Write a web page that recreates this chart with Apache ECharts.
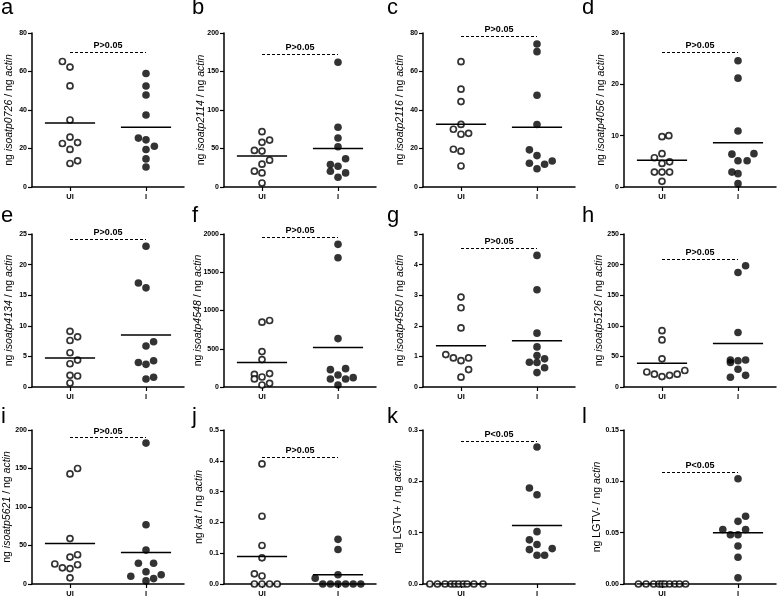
<!DOCTYPE html>
<html><head><meta charset="utf-8">
<script src="https://cdn.jsdelivr.net/npm/echarts@6/dist/echarts.min.js"></script>
<style>html,body{margin:0;padding:0;background:#fff}#c{width:777px;height:600px}</style>
</head><body><div id="c"></div>
<script>
// ---------- DATA ----------
const panelLetters = ['a','b','c','d','e','f','g','h','i','j','k','l'];
const categories = ['UI', 'I'];
const genes = ['isoatp0726','isoatp2114','isoatp2116','isoatp4056','isoatp4134','isoatp4548','isoatp4550','isoatp5126','isoatp5621','kat','LGTV+','LGTV-'];
const geneItalic = [true,true,true,true,true,true,true,true,true,true,false,false];
const yMax = [80, 200, 80, 30, 25, 2000, 5, 250, 200, 0.5, 0.3, 0.15];
const yInterval = [20, 50, 20, 10, 5, 500, 1, 50, 50, 0.1, 0.1, 0.05];
const yDecimals = [0,0,0,0,0,0,0,0,0,1,1,2];
const pLabels = ['P>0.05','P>0.05','P>0.05','P>0.05','P>0.05','P>0.05','P>0.05','P>0.05','P>0.05','P>0.05','P<0.05','P<0.05'];
const pLevels = [70, 173, 78.3, 26.3, 24.2, 1956, 4.54, 209, 190, 0.413, 0.279, 0.109];
const meanUI = [33.2, 40.1, 32.6, 5.2, 4.75, 319, 1.35, 39, 52.7, 0.089, 0, 0];
const meanI  = [31.1, 50.1, 31.1, 8.6, 8.5, 515, 1.51, 71, 41, 0.03, 0.114, 0.050];

// points: [jitter in group widths, value]
const a_UI = [[-0.1,65.2],[0,62.3],[0,52.5],[0,34.8],[0,25.9],[-0.1,22.6],[0.1,23.1],[0,19.5],[0,12.2],[0.1,13.6]];
const a_I  = [[0,59.0],[0,52.5],[0,47.8],[0,37.4],[-0.1,25.4],[0,24.5],[0.11,21.2],[0,19.5],[0,14.6],[0,10.4]];
const b_UI = [[0,71.9],[0,58],[0.1,61],[-0.1,47.5],[0,46.6],[0,29.6],[0.1,34.9],[-0.1,20.5],[0,18.3],[0,5.2]];
const b_I  = [[0,162],[0,77.6],[0,63.6],[0,52.3],[0.1,36.6],[-0.1,29.2],[0,27],[-0.1,20.5],[0.1,18.3],[0,12.6]];
const c_UI = [[0,65.1],[0,50.8],[0,44.4],[0,32.5],[-0.1,30.0],[0,27.4],[0.1,27.9],[-0.1,19.6],[0,18.6],[0,10.9]];
const c_I  = [[0,74.3],[0,70.3],[0,47.7],[0,32.5],[-0.1,19.3],[0,16.3],[-0.1,12.3],[0,9.5],[0.1,11.8],[0.2,13.5]];
const d_UI = [[0,9.8],[0.09,10.0],[0,6.5],[-0.1,5.7],[0,4.6],[0.1,4.9],[-0.1,2.9],[0,2.9],[0.1,2.9],[0,1.1]];
const d_I  = [[0,24.6],[0,21.2],[0,10.9],[-0.08,6.4],[0.21,6.5],[0,5.1],[0.12,5.1],[-0.08,2.9],[0,2.6],[0,0.65]];
const e_UI = [[0,9.1],[0.1,8.2],[0,7.6],[0,5.6],[0.1,4.4],[0,3.8],[0,1.9],[0.1,1.8],[0,0.65]];
const e_I  = [[0,23.0],[-0.1,17.0],[0,16.2],[0.1,7.4],[0,6.7],[-0.1,4.0],[0.1,4.3],[0,3.7],[0,1.3],[0.1,1.6]];
const f_UI = [[0,847],[0.1,869],[0,463],[0,358],[-0.1,166],[-0.1,105],[0,131],[0.1,175],[0,26],[0.1,48]];
const f_I  = [[0,1865],[0,1690],[0,633],[-0.1,227],[0.1,240],[0,157],[-0.1,105],[0.1,105],[0.2,122],[0,26]];
const g_UI = [[0,2.94],[0,2.59],[0,1.93],[-0.2,1.06],[-0.1,0.95],[0,0.86],[0.1,0.95],[0.1,0.57],[0,0.32]];
const g_I  = [[0,4.30],[0,3.18],[0,1.76],[0,1.31],[0,1.03],[-0.1,0.81],[0,0.80],[0.1,0.92],[0.1,0.63],[0,0.47]];
const h_UI = [[0,92],[0,77],[0,46],[-0.2,24.5],[-0.1,21],[0,17],[0.1,19],[0.2,21],[0.3,27]];
const h_I  = [[0.1,198],[0,187],[0,89],[-0.1,44],[-0.1,40],[0,43],[0.1,44],[0,29],[-0.1,16],[0.1,19]];
const i_UI = [[0.1,150],[0,143],[0,59],[0.1,38],[0,35],[-0.2,26],[-0.1,21],[0,20],[0.1,25],[0,8]];
const i_I  = [[0,183],[0,77],[0,44],[-0.1,27],[0.1,27],[0,16],[-0.2,10],[0.1,7],[0.2,12],[0,4]];
const j_UI = [[0,0.39],[0,0.22],[0,0.125],[0,0.085],[-0.1,0.033],[0,0.026],[-0.1,0],[0,0],[0.1,0],[0.2,0]];
const j_I  = [[0,0.145],[0,0.112],[0,0.03],[-0.3,0.019],[-0.2,0],[-0.1,0],[0,0],[0.1,0],[0.2,0],[0.3,0]];
const k_UI = [[-0.41,0],[-0.31,0],[-0.21,0],[-0.13,0],[-0.08,0],[-0.03,0],[0.03,0],[0.08,0],[0.17,0],[0.29,0]];
const k_I  = [[0,0.267],[-0.1,0.187],[0,0.174],[0,0.102],[-0.1,0.086],[0,0.077],[-0.1,0.067],[0.2,0.069],[0,0.056],[0.1,0.056]];
const l_UI = [[-0.31,0],[-0.21,0],[-0.11,0],[-0.04,0],[0,0],[0.04,0],[0.1,0],[0.17,0],[0.23,0],[0.31,0]];
const l_I  = [[0,0.1025],[0.1,0.066],[0,0.061],[-0.2,0.053],[-0.1,0.048],[0,0.048],[0.1,0.053],[0,0.037],[0,0.026],[0,0.006]];

const pointsUI = [a_UI,b_UI,c_UI,d_UI,e_UI,f_UI,g_UI,h_UI,i_UI,j_UI,k_UI,l_UI];
const pointsI  = [a_I,b_I,c_I,d_I,e_I,f_I,g_I,h_I,i_I,j_I,k_I,l_I];

// ---------- LAYOUT ----------
const colLeft = [32, 224, 423, 624];
const rowTop = [33, 234, 430];
const rowH = [154, 153, 154];
const gridW = 152;
const letterY = [18, 226, 427];
const letterX = [1, 192, 387, 582];
const nameGaps = [17, 17, 17, 17, 17, 20, 17, 19, 19, 19, 19, 21];
const FONT = 'Liberation Sans, Arial, sans-serif';

const chart = echarts.init(document.getElementById('c'), null, {renderer: 'canvas'});
const grids = [], xAxes = [], yAxes = [], series = [], graphics = [];

for (let k = 0; k < 12; k++) {
  const r = Math.floor(k / 4), c = k % 4;
  grids.push({left: colLeft[c], top: rowTop[r], width: gridW, height: rowH[r], containLabel: false, outerBoundsMode: 'none'});
  xAxes.push({
    gridIndex: k, type: 'value', min: 0.5, max: 2.5,
    axisLine: {show: true, onZero: false, lineStyle: {color: '#000', width: 1.5}},
    axisTick: {show: true, customValues: [1, 2], length: 4, lineStyle: {color: '#000', width: 1.2}},
    axisLabel: {show: true, customValues: [1, 2], formatter: v => categories[Math.round(v) - 1] || '',
      fontSize: 7.5, fontWeight: 'bold', color: '#000', margin: 6, fontFamily: FONT},
    splitLine: {show: false}
  });
  const nameText = geneItalic[k]
    ? 'ng {i|' + genes[k] + '} / ng {i|actin}'
    : 'ng ' + genes[k] + ' / ng {i|actin}';
  yAxes.push({
    gridIndex: k, type: 'value', min: 0, max: yMax[k], interval: yInterval[k],
    axisLine: {show: true, onZero: false, lineStyle: {color: '#000', width: 1.5}},
    axisTick: {show: true, length: 4, lineStyle: {color: '#000', width: 1.2}},
    axisLabel: {fontSize: 7, fontWeight: 'bold', color: '#000', margin: 5, fontFamily: FONT,
      formatter: v => Number(v).toFixed(yDecimals[k])},
    splitLine: {show: false},
    name: nameText, nameLocation: 'middle', nameRotate: 90, nameGap: nameGaps[k], nameMoveOverlap: false,
    nameTextStyle: {fontSize: 10.5, color: '#000', fontFamily: FONT,
      rich: {i: {fontStyle: 'italic', fontSize: 10.5, color: '#000', fontFamily: FONT}}}
  });
  series.push({
    type: 'scatter', xAxisIndex: k, yAxisIndex: k, clip: false, z: 3,
    data: pointsUI[k].map(p => [1 + p[0], p[1]]),
    symbol: 'circle', symbolSize: 6,
    itemStyle: {color: '#fff', borderColor: '#000', borderWidth: 1.7},
    silent: true,
    markLine: {
      silent: true, symbol: ['none', 'none'], animation: false,
      lineStyle: {type: [3, 2], color: '#000', width: 1},
      label: {show: true, position: 'middle', formatter: pLabels[k], fontSize: 9, fontWeight: 'bold',
        color: '#000', distance: 2, fontFamily: FONT},
      data: [[{coord: [1, pLevels[k]]}, {coord: [2, pLevels[k]]}]]
    }
  });
  series.push({
    type: 'scatter', xAxisIndex: k, yAxisIndex: k, clip: false, z: 3,
    data: pointsI[k].map(p => [2 + p[0], p[1]]),
    symbol: 'circle', symbolSize: 7.6,
    itemStyle: {color: '#000'}, silent: true
  });
  [[1, meanUI[k]], [2, meanI[k]]].forEach(([cx, m]) => {
    series.push({
      type: 'line', xAxisIndex: k, yAxisIndex: k, z: 4, silent: true,
      data: [[cx - 0.33, m], [cx + 0.33, m]], symbol: 'none',
      lineStyle: {color: '#000', width: 1.5}
    });
  });
  graphics.push({
    type: 'text', left: letterX[c], top: letterY[r] - 21,
    style: {text: panelLetters[k], fontSize: 22, fill: '#000', fontFamily: FONT}
  });
}

chart.setOption({
  animation: false,
  backgroundColor: '#fff',
  grid: grids, xAxis: xAxes, yAxis: yAxes, series: series, graphic: graphics
});
</script>
</body></html>
